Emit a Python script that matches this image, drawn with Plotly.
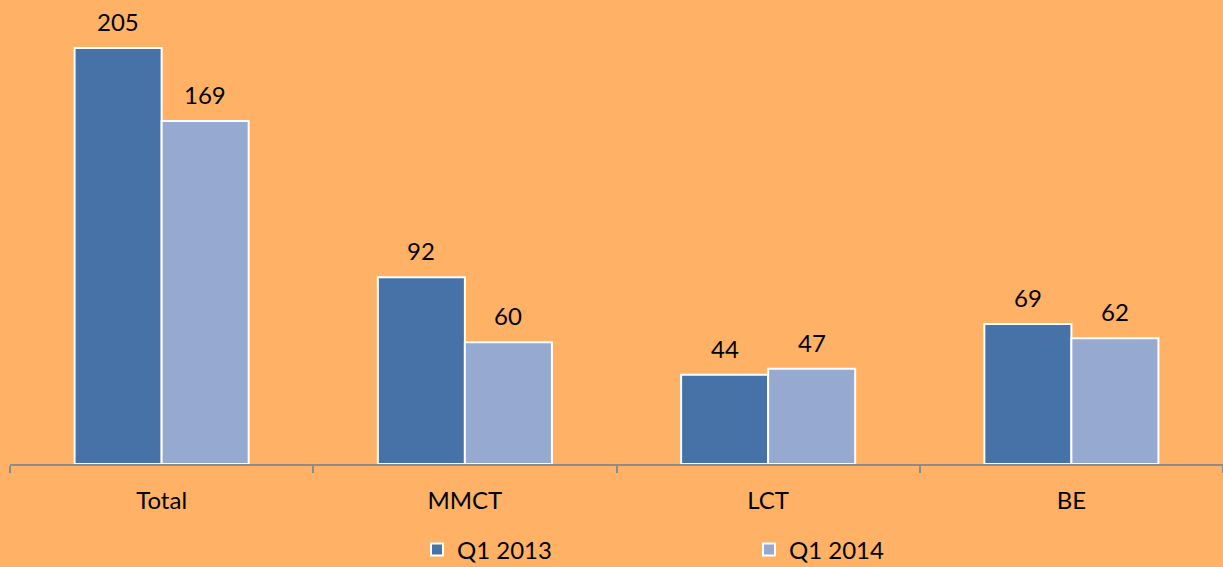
import plotly.graph_objects as go

categories = ["Total", "MMCT", "LCT", "BE"]
q1_2013 = [205, 92, 44, 69]
q1_2014 = [169, 60, 47, 62]
series_names = ["Q1 2013", "Q1 2014"]

BG = "#FFB266"
C1 = "#4672A8"
C2 = "#95A9D1"
FONT = "Lato, Open Sans, sans-serif"
FS = 24

fig = go.Figure()
fig.add_trace(go.Bar(x=categories, y=q1_2013, name=series_names[0],
                     marker=dict(color=C1, line=dict(color="white", width=2))))
fig.add_trace(go.Bar(x=categories, y=q1_2014, name=series_names[1],
                     marker=dict(color=C2, line=dict(color="white", width=2))))

annotations = []
for vals, shift in ((q1_2013, -43.5), (q1_2014, 43.5)):
    for c, v in zip(categories, vals):
        annotations.append(dict(x=c, y=v, text=str(v), showarrow=False,
                                xshift=shift, yanchor="bottom", yshift=10,
                                font=dict(size=FS, color="#000000", family=FONT)))

fig.update_layout(
    width=1223, height=567,
    paper_bgcolor=BG, plot_bgcolor=BG,
    margin=dict(l=10, r=0, t=0, b=103, autoexpand=False),
    barmode="group", bargap=0.426, bargroupgap=0,
    font=dict(family=FONT, size=FS, color="#000000"),
    showlegend=True,
    legend=dict(orientation="h", x=(417 - 10) / 1213, xanchor="left",
                y=-86 / 464, yanchor="middle",
                entrywidth=287, entrywidthmode="pixels",
                font=dict(size=FS, family=FONT), bgcolor="rgba(0,0,0,0)",
                itemclick=False),
    annotations=annotations,
)
fig.update_xaxes(showline=True, linecolor="#8C8C8C", linewidth=2,
                 ticks="outside", tickson="boundaries", ticklen=7, tickcolor="#8C8C8C",
                 tickwidth=2, tickfont=dict(size=FS, family=FONT, color="#000000"),
                 ticklabelstandoff=14, automargin=False,
                 showgrid=False, zeroline=False, fixedrange=True)
fig.update_yaxes(range=[0, 228.7], visible=False, showgrid=False, zeroline=False,
                 fixedrange=True)

fig.write_html("out.html", config={"displayModeBar": False},
               post_script="document.body.style.margin='0';")
